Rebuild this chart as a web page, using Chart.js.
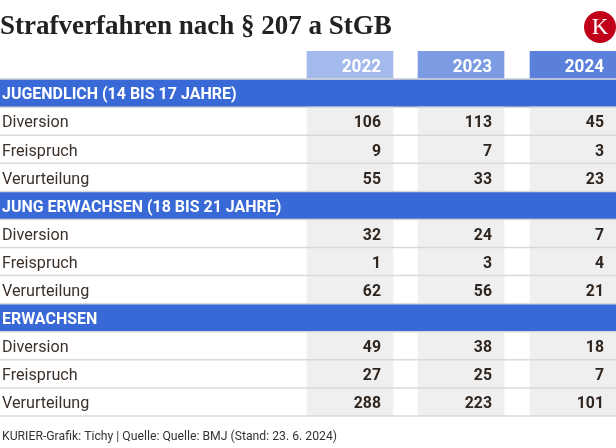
<!DOCTYPE html>
<html>
<head>
<meta charset="utf-8">
<script src="https://cdn.jsdelivr.net/npm/chart.js@4"></script>
<style>
  html, body { margin: 0; padding: 0; background: #fff; }
  #wrap { width: 616px; height: 448px; position: relative; }
</style>
</head>
<body>
<div id="wrap"><canvas id="chart-table"></canvas></div>
<script>
'use strict';

/* ─── Daten ─── */
var sections = ['JUGENDLICH (14 BIS 17 JAHRE)', 'JUNG ERWACHSEN (18 BIS 21 JAHRE)', 'ERWACHSEN'];
var outcomes = ['Diversion', 'Freispruch', 'Verurteilung'];
var years = ['2022', '2023', '2024'];
var values2022 = [106, 9, 55, 32, 1, 62, 49, 27, 288];
var values2023 = [113, 7, 33, 24, 3, 56, 38, 25, 223];
var values2024 = [45, 3, 23, 7, 4, 21, 18, 7, 101];
var yearValues = [values2022, values2023, values2024];

var titleText = 'Strafverfahren nach § 207 a StGB';
var footerText = 'KURIER-Grafik: Tichy | Quelle: Quelle: BMJ (Stand: 23. 6. 2024)';

/* ─── Layout (Tabellen-Einheiten = Pixel der Zeichenfläche) ─── */
var TABLE_W = 616;
var colSpans = [[307, 393], [418, 504], [530, 616]];
var headerColors = ['#a4b9ec', '#7b9be3', '#5b80dc'];
var sectionColor = '#3969d6';
var cellGray = '#efefef';

/* ─── Zeilen aufbauen: Kopf, dann je Abschnitt 1 + 3 Zeilen ─── */
var rowLabels = [''];
var rowKind = ['head'];
var rowValueIdx = [-1];
for (var s = 0; s < sections.length; s++) {
  rowLabels.push(sections[s]); rowKind.push('section'); rowValueIdx.push(-1);
  for (var o = 0; o < outcomes.length; o++) {
    rowLabels.push(outcomes[o]); rowKind.push('data'); rowValueIdx.push(s * outcomes.length + o);
  }
}

var datasets = [];
for (var y = 0; y < years.length; y++) {
  var d = [], c = [];
  for (var r = 0; r < rowLabels.length; r++) {
    if (rowKind[r] === 'section') { d.push(null); c.push(cellGray); }
    else { d.push(colSpans[y].slice()); c.push(rowKind[r] === 'head' ? headerColors[y] : cellGray); }
  }
  datasets.push({ label: years[y], data: d, backgroundColor: c });
}
var secData = [];
for (var r2 = 0; r2 < rowLabels.length; r2++) {
  secData.push(rowKind[r2] === 'section' ? [0, TABLE_W] : null);
}
datasets.push({ label: 'section', data: secData, backgroundColor: sectionColor });

/* ─── Text etwas schmaler zeichnen (Condensed-Ersatz) ─── */
function drawText(ctx, text, x, y, align, font, color, sx) {
  ctx.save();
  ctx.font = font;
  ctx.fillStyle = color;
  ctx.textAlign = align;
  ctx.textBaseline = 'middle';
  ctx.translate(x, y);
  ctx.scale(sx, 1);
  ctx.fillText(text, 0, 0);
  ctx.restore();
}

var tablePlugin = {
  id: 'tableText',
  afterDatasetsDraw: function (chart) {
    var ctx = chart.ctx;
    var yScale = chart.scales.y;
    var area = chart.chartArea;

    // Trennlinien zwischen Zeilen
    ctx.save();
    ctx.strokeStyle = '#d9d9d9';
    ctx.lineWidth = 1.5;
    for (var r = 1; r <= rowLabels.length; r++) {
      var yb = r < rowLabels.length
        ? (yScale.getPixelForValue(r - 1) + yScale.getPixelForValue(r)) / 2
        : area.bottom;
      ctx.beginPath();
      ctx.moveTo(area.left, yb);
      ctx.lineTo(area.right, yb);
      ctx.stroke();
    }
    ctx.restore();

    // Zeilenbeschriftung
    for (var i = 0; i < rowLabels.length; i++) {
      var py = yScale.getPixelForValue(i) + 2;
      if (rowKind[i] === 'section') {
        drawText(ctx, rowLabels[i], area.left + 2, py, 'left', 'bold 17px Roboto', '#ffffff', 0.94);
      } else if (rowKind[i] === 'data') {
        drawText(ctx, rowLabels[i], area.left + 2, py, 'left', '17px Roboto', '#3b302a', 0.95);
      }
    }

    // Jahre und Werte
    for (var ds = 0; ds < years.length; ds++) {
      var meta = chart.getDatasetMeta(ds);
      for (var k = 0; k < meta.data.length; k++) {
        var el = meta.data[k];
        if (rowKind[k] === 'head') {
          drawText(ctx, years[ds], el.x - 12, el.y + 2, 'right', 'bold 18px Roboto', '#ffffff', 0.95);
        } else if (rowKind[k] === 'data') {
          var v = yearValues[ds][rowValueIdx[k]];
          drawText(ctx, String(v), el.x - 12, el.y + 2, 'right', 'bold 17px Roboto', '#2f2620', 0.93);
        }
      }
    }
  },
  afterDraw: function (chart) {
    var ctx = chart.ctx;
    // Titel
    ctx.save();
    ctx.font = 'bold 27px "Liberation Serif"';
    ctx.fillStyle = '#222222';
    ctx.textAlign = 'left';
    ctx.textBaseline = 'alphabetic';
    ctx.fillText(titleText, 0, 34);
    ctx.restore();

    // Logo
    ctx.save();
    ctx.fillStyle = '#c0001a';
    ctx.beginPath();
    ctx.arc(600, 27, 16, 0, Math.PI * 2);
    ctx.fill();
    ctx.font = '23px "Liberation Serif"';
    ctx.fillStyle = '#ffffff';
    ctx.textAlign = 'center';
    ctx.textBaseline = 'middle';
    ctx.fillText('K', 600, 28);
    ctx.restore();

    // Quelle
    drawText(ctx, footerText, 2, 437, 'left', '13px Roboto', '#333333', 0.94);
  }
};

new Chart(document.getElementById('chart-table'), {
  type: 'bar',
  data: { labels: rowLabels, datasets: datasets },
  options: {
    indexAxis: 'y',
    responsive: true,
    maintainAspectRatio: false,
    animation: false,
    events: [],
    layout: { padding: { top: 51, bottom: 32, left: 0, right: 0 } },
    datasets: { bar: { barPercentage: 1, categoryPercentage: 1, grouped: false, borderWidth: 0 } },
    plugins: { legend: { display: false }, title: { display: false }, tooltip: { enabled: false } },
    scales: {
      x: { type: 'linear', min: 0, max: TABLE_W, display: false },
      y: { type: 'category', display: false, offset: true }
    }
  },
  plugins: [tablePlugin]
});
</script>
</body>
</html>
